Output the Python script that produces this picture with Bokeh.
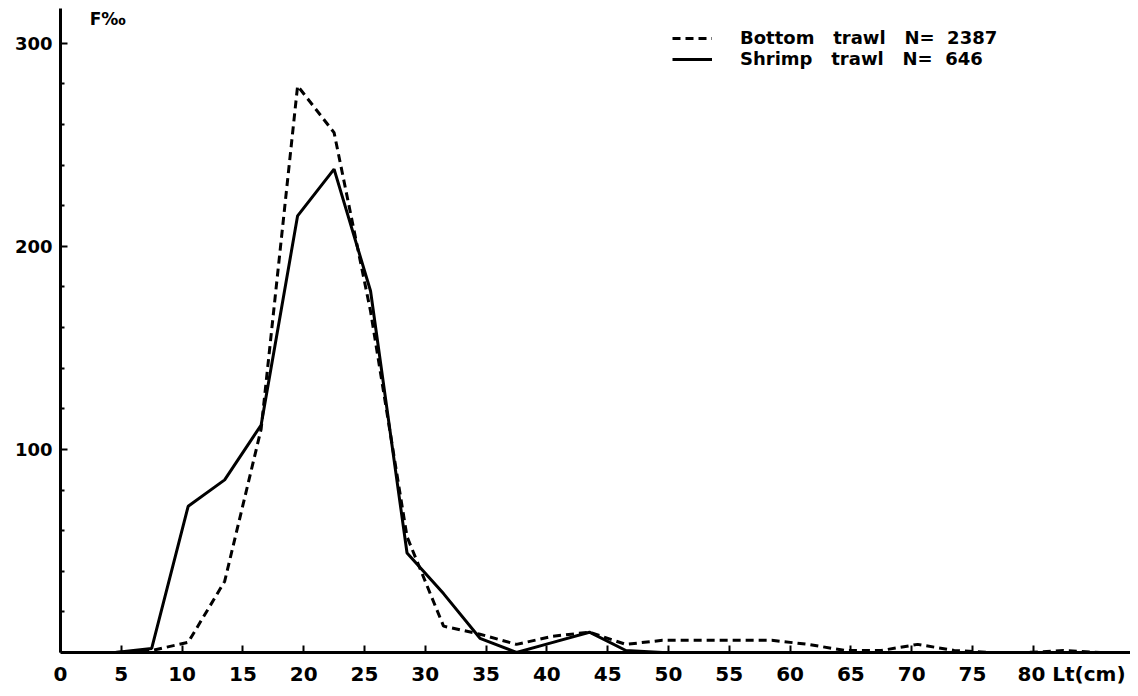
from bokeh.plotting import figure
from bokeh.models import Range1d, FixedTicker, Legend, LegendItem, Label
from bokeh.embed import file_html
from bokeh.resources import INLINE

# Length classes (cm, class midpoints) and frequencies (per mille)
bottom_len = [4.5, 7.5, 10.5, 13.5, 16.5, 19.5, 22.5, 25.5, 28.5, 31.5, 34.5, 37.5,
              40.5, 43.5, 46.5, 49.5, 52.5, 55.5, 58.5, 61.5, 64.5, 67.5, 70.5,
              73.5, 76.5, 79.5, 82.5, 85.5]
bottom_freq = [0, 1, 5, 35, 110, 279, 256, 168, 57, 13, 9, 4,
               8, 10, 4, 6, 6, 6, 6, 4, 1, 1, 4,
               1, 0, 0, 1, 0]
shrimp_len = [4.5, 7.5, 10.5, 13.5, 16.5, 19.5, 22.5, 25.5, 28.5, 31.5, 34.5, 37.5,
              40.5, 43.5, 46.5, 49.5]
shrimp_freq = [0, 2, 72, 85, 112, 215, 238, 178, 49, 29, 7, 0,
               5, 10, 1, 0]
x_ticks = [0, 5, 10, 15, 20, 25, 30, 35, 40, 45, 50, 55, 60, 65, 70, 75, 80]
y_ticks = [100, 200, 300]
y_minor = [20, 40, 60, 80, 120, 140, 160, 180, 220, 240, 260, 280]
x_unit = "Lt(cm)"
y_unit = "F\u2030"
bottom_label = "Bottom\u00a0\u00a0\u00a0trawl\u00a0\u00a0\u00a0N=\u00a0\u00a02387"
shrimp_label = "Shrimp\u00a0\u00a0\u00a0trawl\u00a0\u00a0\u00a0N=\u00a0\u00a0646"

FONT = "DejaVu Sans"
Y_TOP = 317.1

p = figure(width=1130, height=688, output_backend="svg", toolbar_location=None,
           x_range=Range1d(0, 88.0), y_range=Range1d(0, Y_TOP))
p.min_border_left = 60
p.min_border_right = 0
p.min_border_top = 8
p.min_border_bottom = 29
p.outline_line_color = None
p.xgrid.visible = False
p.ygrid.visible = False
p.background_fill_color = "white"
p.border_fill_color = "white"

r_bottom = p.line(bottom_len, bottom_freq, line_color="black", line_width=3,
                  line_dash="8 5")
r_shrimp = p.line(shrimp_len, shrimp_freq, line_color="black", line_width=3)

xa = p.xaxis[0]
xa.ticker = FixedTicker(ticks=x_ticks)
xa.axis_line_width = 3
xa.axis_line_color = "black"
xa.major_tick_in = 7
xa.major_tick_out = 0
xa.major_tick_line_width = 2
xa.major_tick_line_color = "black"
xa.minor_tick_line_color = None
xa.major_label_text_font = FONT
xa.major_label_text_font_style = "bold"
xa.major_label_text_font_size = "20px"
xa.major_label_text_color = "black"
xa.major_label_standoff = 9
# last tick carries the axis unit, padded so that "80" stays centred on its tick
pad = "\u00a0" * 11
xa.major_label_overrides = {80: pad + "80\u00a0" + x_unit}

ya = p.yaxis[0]
ya.ticker = FixedTicker(ticks=y_ticks, minor_ticks=y_minor)
ya.axis_line_width = 3
ya.axis_line_color = "black"
ya.major_tick_in = 7
ya.major_tick_out = 0
ya.minor_tick_in = 4
ya.minor_tick_out = 0
ya.major_tick_line_width = 2
ya.minor_tick_line_width = 2
ya.major_tick_line_color = "black"
ya.minor_tick_line_color = "black"
ya.major_label_text_font = FONT
ya.major_label_text_font_style = "bold"
ya.major_label_text_font_size = "18px"
ya.major_label_text_color = "black"
ya.major_label_standoff = 8

legend = Legend(items=[LegendItem(label=bottom_label, renderers=[r_bottom]),
                       LegendItem(label=shrimp_label, renderers=[r_shrimp])],
                location=(612, 583), padding=0, margin=0, spacing=0,
                glyph_width=40, glyph_height=20, label_height=20,
                label_standoff=28, border_line_color=None,
                background_fill_alpha=0,
                label_text_font=FONT, label_text_font_style="bold",
                label_text_font_size="18px", label_text_color="black")
p.add_layout(legend)

p.add_layout(Label(x=2.4, y=Y_TOP, text=y_unit, text_font=FONT,
                   text_font_style="bold", text_font_size="17px",
                   text_baseline="top", text_color="black"))

open("out.html", "w").write(file_html(p, INLINE))
